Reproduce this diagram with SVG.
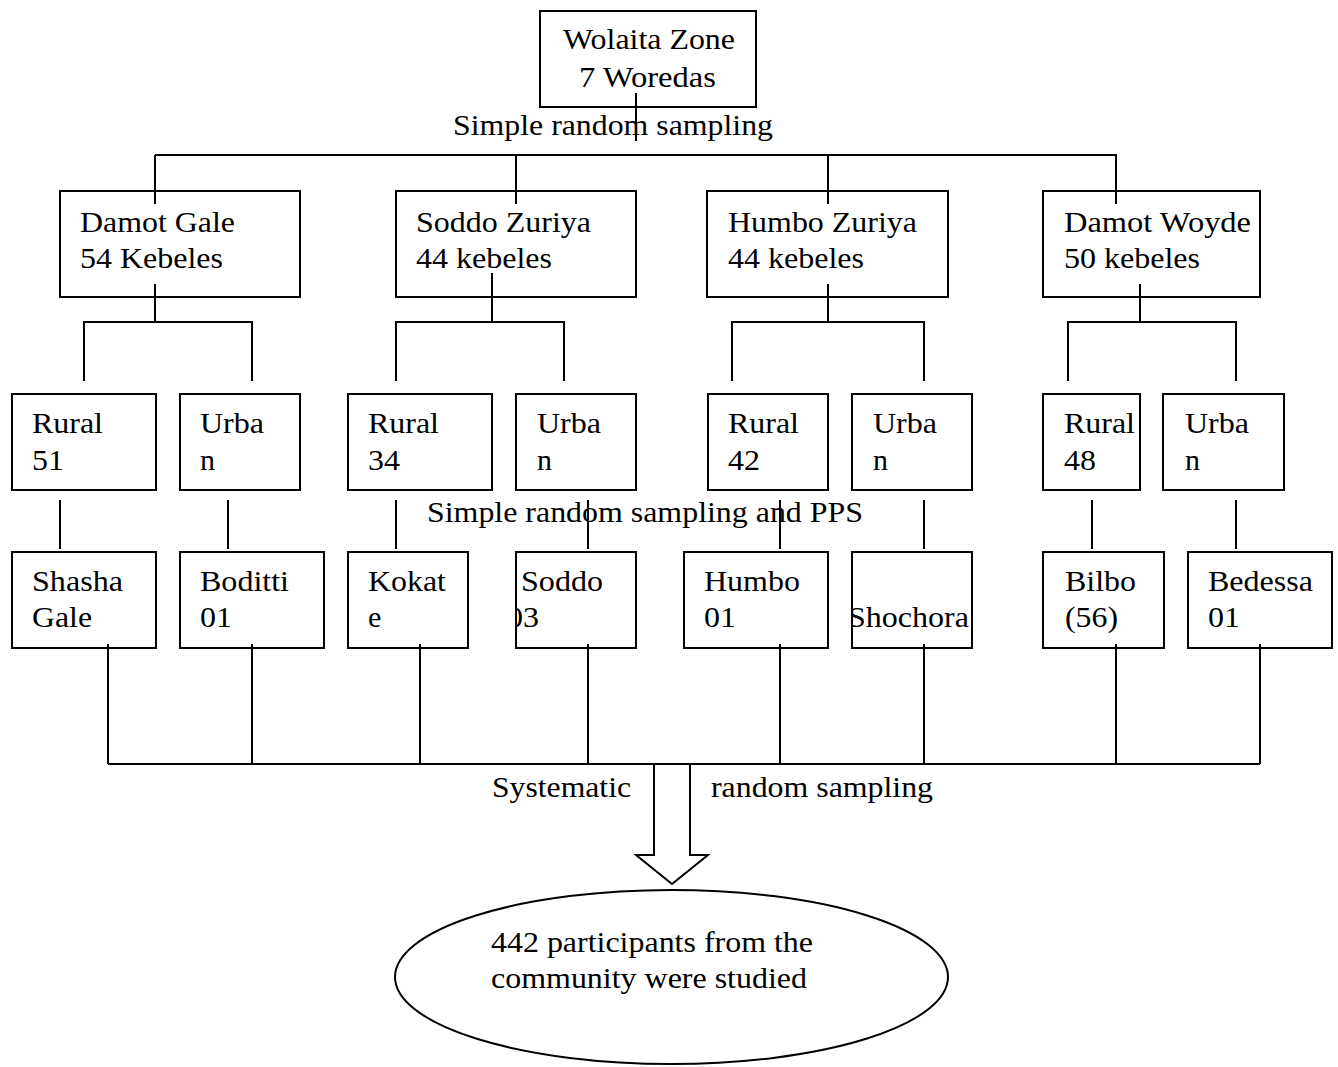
<svg xmlns="http://www.w3.org/2000/svg" width="1338" height="1067" viewBox="0 0 1338 1067">
<style>
.box{fill:#fff;stroke:#000;stroke-width:2}
.ln{fill:none;stroke:#000;stroke-width:2}
text{font-family:"Liberation Serif","Times New Roman",serif;font-size:30px;fill:#000}
</style>
<defs>
<clipPath id="clipSoddo"><rect x="517" y="553" width="118" height="94"/></clipPath>
<clipPath id="clipShochora"><rect x="853" y="553" width="118" height="94"/></clipPath>
</defs>
<rect width="1338" height="1067" fill="#fff"/>

<g id="zone">
<rect class="box" x="540" y="11" width="216" height="96"/>
<text x="563" y="49" textLength="172" lengthAdjust="spacingAndGlyphs">Wolaita Zone</text>
<text x="579" y="87" textLength="137" lengthAdjust="spacingAndGlyphs">7 Woredas</text>
</g>

<g id="labels">
<text x="453" y="135" textLength="320" lengthAdjust="spacingAndGlyphs">Simple random sampling</text>
<text x="427" y="522" textLength="436" lengthAdjust="spacingAndGlyphs">Simple random sampling and PPS</text>
<text x="492" y="797" textLength="139" lengthAdjust="spacingAndGlyphs">Systematic</text>
<text x="711" y="797" textLength="222" lengthAdjust="spacingAndGlyphs">random sampling</text>
</g>

<g id="damot-gale">
<rect class="box" x="60" y="191" width="240" height="106"/>
<text x="80" y="232" textLength="155" lengthAdjust="spacingAndGlyphs">Damot Gale</text>
<text x="80" y="268" textLength="143" lengthAdjust="spacingAndGlyphs">54 Kebeles</text>
</g>
<g id="soddo-zuriya">
<rect class="box" x="396" y="191" width="240" height="106"/>
<text x="416" y="232" textLength="175" lengthAdjust="spacingAndGlyphs">Soddo Zuriya</text>
<text x="416" y="268" textLength="136" lengthAdjust="spacingAndGlyphs">44 kebeles</text>
</g>
<g id="humbo-zuriya">
<rect class="box" x="707" y="191" width="241" height="106"/>
<text x="728" y="232" textLength="189" lengthAdjust="spacingAndGlyphs">Humbo Zuriya</text>
<text x="728" y="268" textLength="136" lengthAdjust="spacingAndGlyphs">44 kebeles</text>
</g>
<g id="damot-woyde">
<rect class="box" x="1043" y="191" width="217" height="106"/>
<text x="1064" y="232" textLength="187" lengthAdjust="spacingAndGlyphs">Damot Woyde</text>
<text x="1064" y="268" textLength="136" lengthAdjust="spacingAndGlyphs">50 kebeles</text>
</g>

<g id="rural-51">
<rect class="box" x="12" y="394" width="144" height="96"/>
<text x="32" y="433" textLength="71" lengthAdjust="spacingAndGlyphs">Rural</text>
<text x="32" y="470" textLength="32" lengthAdjust="spacingAndGlyphs">51</text>
</g>
<g id="urban-1">
<rect class="box" x="180" y="394" width="120" height="96"/>
<text x="200" y="433" textLength="64" lengthAdjust="spacingAndGlyphs">Urba</text>
<text x="200" y="470">n</text>
</g>
<g id="rural-34">
<rect class="box" x="348" y="394" width="144" height="96"/>
<text x="368" y="433" textLength="71" lengthAdjust="spacingAndGlyphs">Rural</text>
<text x="368" y="470" textLength="32" lengthAdjust="spacingAndGlyphs">34</text>
</g>
<g id="urban-2">
<rect class="box" x="516" y="394" width="120" height="96"/>
<text x="537" y="433" textLength="64" lengthAdjust="spacingAndGlyphs">Urba</text>
<text x="537" y="470">n</text>
</g>
<g id="rural-42">
<rect class="box" x="708" y="394" width="120" height="96"/>
<text x="728" y="433" textLength="71" lengthAdjust="spacingAndGlyphs">Rural</text>
<text x="728" y="470" textLength="32" lengthAdjust="spacingAndGlyphs">42</text>
</g>
<g id="urban-3">
<rect class="box" x="852" y="394" width="120" height="96"/>
<text x="873" y="433" textLength="64" lengthAdjust="spacingAndGlyphs">Urba</text>
<text x="873" y="470">n</text>
</g>
<g id="rural-48">
<rect class="box" x="1043" y="394" width="97" height="96"/>
<text x="1064" y="433" textLength="71" lengthAdjust="spacingAndGlyphs">Rural</text>
<text x="1064" y="470" textLength="32" lengthAdjust="spacingAndGlyphs">48</text>
</g>
<g id="urban-4">
<rect class="box" x="1163" y="394" width="121" height="96"/>
<text x="1185" y="433" textLength="64" lengthAdjust="spacingAndGlyphs">Urba</text>
<text x="1185" y="470">n</text>
</g>

<g id="shasha-gale">
<rect class="box" x="12" y="552" width="144" height="96"/>
<text x="32" y="591" textLength="91" lengthAdjust="spacingAndGlyphs">Shasha</text>
<text x="32" y="627" textLength="60" lengthAdjust="spacingAndGlyphs">Gale</text>
</g>
<g id="boditti">
<rect class="box" x="180" y="552" width="144" height="96"/>
<text x="200" y="591" textLength="89" lengthAdjust="spacingAndGlyphs">Boditti</text>
<text x="200" y="627" textLength="32" lengthAdjust="spacingAndGlyphs">01</text>
</g>
<g id="kokate">
<rect class="box" x="348" y="552" width="120" height="96"/>
<text x="368" y="591" textLength="78" lengthAdjust="spacingAndGlyphs">Kokat</text>
<text x="368" y="627">e</text>
</g>
<g id="soddo-03">
<rect class="box" x="516" y="552" width="120" height="96"/>
<g clip-path="url(#clipSoddo)">
<text x="521" y="591" textLength="82" lengthAdjust="spacingAndGlyphs">Soddo</text>
<text x="507" y="627" textLength="32" lengthAdjust="spacingAndGlyphs">03</text>
</g>
</g>
<g id="humbo-01">
<rect class="box" x="684" y="552" width="144" height="96"/>
<text x="704" y="591" textLength="96" lengthAdjust="spacingAndGlyphs">Humbo</text>
<text x="704" y="627" textLength="32" lengthAdjust="spacingAndGlyphs">01</text>
</g>
<g id="shochora">
<rect class="box" x="852" y="552" width="120" height="96"/>
<g clip-path="url(#clipShochora)">
<text x="848" y="627" textLength="121" lengthAdjust="spacingAndGlyphs">Shochora</text>
</g>
</g>
<g id="bilbo">
<rect class="box" x="1043" y="552" width="121" height="96"/>
<text x="1065" y="591" textLength="71" lengthAdjust="spacingAndGlyphs">Bilbo</text>
<text x="1065" y="627" textLength="53" lengthAdjust="spacingAndGlyphs">(56)</text>
</g>
<g id="bedessa">
<rect class="box" x="1188" y="552" width="144" height="96"/>
<text x="1208" y="591" textLength="105" lengthAdjust="spacingAndGlyphs">Bedessa</text>
<text x="1208" y="627" textLength="32" lengthAdjust="spacingAndGlyphs">01</text>
</g>

<g id="connectors">
<path class="ln" d="M636 93V141 M155 155H1117 M155 155V204 M516 155V204 M828 155V204 M1116 155V204"/>
<path class="ln" d="M155 284V322 M84 381V322H252V381 M492 273V322 M396 381V322H564V381 M828 284V322 M732 381V322H924V381 M1140 284V322 M1068 381V322H1236V381"/>
<path class="ln" d="M60 500V549 M228 500V549 M396 500V549 M588 500V549 M780 500V549 M924 500V549 M1092 500V549 M1236 500V549"/>
<path class="ln" d="M108 644V764 M252 644V764 M420 644V764 M588 644V764 M780 644V764 M924 644V764 M1116 644V764 M1260 644V764 M108 764H1260"/>
<polygon class="box" points="654,764 690,764 690,855 708,855 672,884 636,855 654,855"/>
</g>

<g id="result">
<ellipse class="box" cx="671.5" cy="977" rx="276.5" ry="87"/>
<text x="491" y="952" textLength="322" lengthAdjust="spacingAndGlyphs">442 participants from the</text>
<text x="491" y="988" textLength="316" lengthAdjust="spacingAndGlyphs">community were studied</text>
</g>
</svg>
